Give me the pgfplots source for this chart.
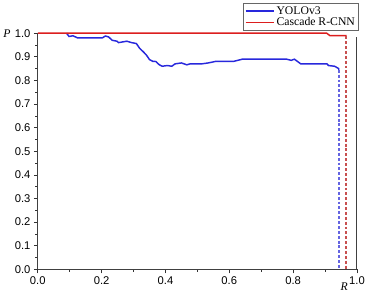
\documentclass[border=0pt]{standalone}
\usepackage{fontspec}
\setmainfont{Liberation Serif}
\setsansfont{Liberation Sans}
\usepackage{pgfplots}
\pgfplotsset{compat=1.18}
\definecolor{yblue}{RGB}{40,40,220}
\definecolor{cred}{RGB}{220,30,30}
\definecolor{ybluel}{RGB}{100,100,225}
\definecolor{credl}{RGB}{200,80,80}
\begin{document}
\begin{tikzpicture}
\begin{axis}[
  scale only axis, width=327pt, height=242pt,
  xmin=0, xmax=1, ymin=0, ymax=1,
  axis x line*=bottom, axis y line*=left,
  xtick={0,0.2,...,1.0}, ytick={0,0.1,...,1.0},
  minor x tick num=1, minor y tick num=1,
  tick align=outside,
  major tick length=4pt, minor tick length=2.5pt,
  tick style={black!80, line width=0.7pt},
  axis line style={line width=1pt, black!75, -},
  xticklabel style={font=\sffamily\fontsize{11.5}{12}\selectfont, /pgf/number format/fixed, /pgf/number format/fixed zerofill, /pgf/number format/precision=1},
  yticklabel style={font=\sffamily\fontsize{11.5}{12}\selectfont, /pgf/number format/fixed, /pgf/number format/fixed zerofill, /pgf/number format/precision=1},
  /pgf/number format/assume math mode=true,
  legend style={at={(rel axis cs:1.005,1.01)}, anchor=south east, font=\large, draw=black!60, inner sep=1.5pt, row sep=-2pt, cells={anchor=west}},
  clip=false,
]
\addlegendimage{draw=yblue, line width=1.5pt, legend image code/.code={\draw[draw=yblue, line width=1.5pt] (0pt,0pt) -- (29pt,0pt);}}
\addlegendentry{YOLOv3}
\addlegendimage{draw=cred, line width=1.5pt, legend image code/.code={\draw[draw=cred, line width=1.5pt] (0pt,0pt) -- (29pt,0pt);}}
\addlegendentry{Cascade R-CNN}
\addplot[color=yblue, line width=1.5pt, forget plot] coordinates {
(0.09,1.0)(0.098,0.986)(0.11,0.989)(0.125,0.98)(0.202,0.98)(0.212,0.988)(0.222,0.984)(0.233,0.97)(0.248,0.966)(0.253,0.96)(0.279,0.966)(0.294,0.96)(0.309,0.956)(0.319,0.936)(0.33,0.922)(0.34,0.908)(0.35,0.888)(0.36,0.881)(0.37,0.88)(0.38,0.867)(0.39,0.86)(0.406,0.863)(0.42,0.86)(0.43,0.87)(0.45,0.874)(0.467,0.866)(0.477,0.87)(0.513,0.87)(0.534,0.874)(0.559,0.881)(0.615,0.881)(0.641,0.89)(0.779,0.89)(0.794,0.885)(0.804,0.89)(0.824,0.87)(0.906,0.87)(0.911,0.863)(0.93,0.86)(0.943,0.85)(0.943,0.845)};
\addplot[color=cred, line width=1.5pt, forget plot] coordinates {(0,1.0)(0.905,1.0)(0.915,0.99)(0.965,0.99)(0.965,0.987)};
\addplot[color=ybluel, line width=1.6pt, dash pattern=on 3pt off 2pt, forget plot] coordinates {(0.943,0.845)(0.943,0)};
\addplot[color=credl, line width=1.6pt, dash pattern=on 3pt off 2pt, forget plot] coordinates {(0.965,0.987)(0.965,0)};
\draw[line width=1pt, black!75] (rel axis cs:1,0) -- (rel axis cs:1,0.985);
\node[font=\itshape\large, anchor=east] at (rel axis cs:-0.075,1) {P};
\node[font=\itshape\large] at (rel axis cs:0.96,-0.075) {R};
\end{axis}
\path (current axis.south west) ++(-32pt,-24pt);
\path (current axis.north east) ++(9pt,34pt);
\end{tikzpicture}
\end{document}
